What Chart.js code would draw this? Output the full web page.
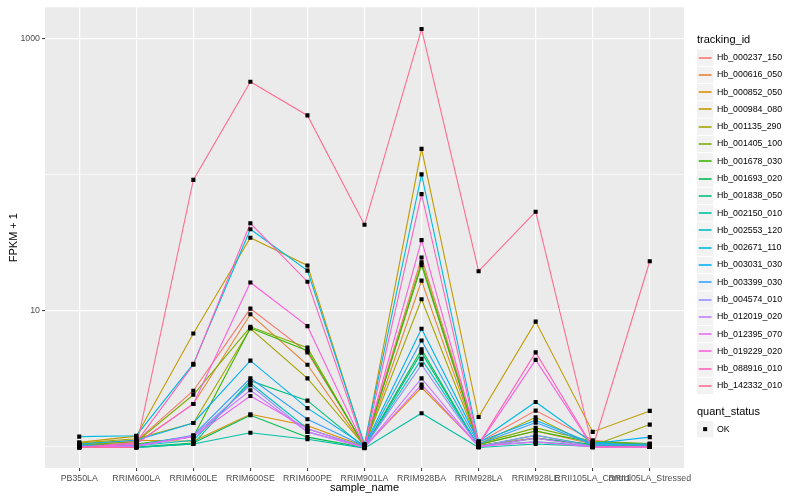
<!DOCTYPE html>
<html>
<head>
<meta charset="utf-8">
<script src="https://cdn.jsdelivr.net/npm/chart.js@4.4.1/dist/chart.umd.min.js"></script>
<style>
  html, body { margin: 0; padding: 0; background: #ffffff; }
  #wrap { width: 800px; height: 500px; }
</style>
</head>
<body>
<div id="wrap"><canvas id="chart" width="800" height="500"></canvas></div>
<script>
// x categories (sample_name)
const samples = ['PB350LA', 'RRIM600LA', 'RRIM600LE', 'RRIM600SE', 'RRIM600PE', 'RRIM901LA',
  'RRIM928BA', 'RRIM928LA', 'RRIM928LE', 'RRII105LA_Control', 'RRII105LA_Stressed'];

// tracking ids, in legend order, and their ggplot hue colours
const trackingIds = ['Hb_000237_150', 'Hb_000616_050', 'Hb_000852_050', 'Hb_000984_080', 'Hb_001135_290',
  'Hb_001405_100', 'Hb_001678_030', 'Hb_001693_020', 'Hb_001838_050', 'Hb_002150_010',
  'Hb_002553_120', 'Hb_002671_110', 'Hb_003031_030', 'Hb_003399_030', 'Hb_004574_010',
  'Hb_012019_020', 'Hb_012395_070', 'Hb_019229_020', 'Hb_088916_010', 'Hb_142332_010'];
const trackColors = ['#F8766D', '#EA8331', '#D89000', '#C09B00', '#A3A500',
  '#7CAE00', '#39B600', '#00BB4E', '#00BF7D', '#00C1A3',
  '#00BFC4', '#00BAE0', '#00B0F6', '#35A2FF', '#9590FF',
  '#C77CFF', '#E76BF3', '#FA62DB', '#FF62BC', '#FF6C91'];

// FPKM + 1 per sample, one array per tracking id
const hb000237 = [1.03, 1.10, 2.59, 10.4, 4.96, 1.02, 24.7, 1.08, 1.85, 1.12, 1.02];
const hb000616 = [1.02, 1.06, 2.07, 9.46, 4.02, 1.00, 16.7, 1.04, 1.31, 1.05, 1.01];
const hb000852 = [1.06, 1.12, 1.10, 1.74, 1.43, 1.01, 2.73, 1.03, 1.16, 1.03, 1.04];
const hb000984 = [1.08, 1.20, 6.83, 34.5, 21.6, 1.03, 155.6, 1.66, 8.35, 1.29, 1.84];
const hb001135 = [1.07, 1.15, 1.50, 7.43, 3.19, 1.02, 12.2, 1.05, 1.65, 1.02, 1.46];
const hb001405 = [1.04, 1.09, 2.42, 7.64, 5.37, 1.00, 22.8, 1.06, 1.38, 1.10, 1.06];
const hb001678 = [1.03, 1.05, 1.19, 7.50, 5.10, 1.01, 21.7, 1.04, 1.31, 1.08, 1.05];
const hb001693 = [1.02, 1.00, 1.07, 1.71, 1.18, 0.99, 5.22, 1.00, 1.16, 1.04, 1.03];
const hb001838 = [1.01, 0.99, 1.05, 3.07, 2.19, 0.99, 4.94, 1.01, 1.22, 1.03, 1.02];
const hb002150 = [1.00, 0.99, 1.05, 1.27, 1.14, 0.98, 1.77, 0.99, 1.05, 1.01, 1.00];
const hb002553 = [1.02, 1.02, 1.12, 2.95, 1.36, 1.00, 4.44, 1.02, 1.09, 1.02, 1.01];
const hb002671 = [1.19, 1.21, 4.08, 39.9, 19.8, 1.05, 101, 1.10, 2.14, 1.07, 1.03];
const hb003031 = [1.05, 1.12, 1.50, 4.31, 1.93, 1.02, 7.39, 1.09, 1.57, 1.06, 1.18];
const hb003399 = [1.03, 1.03, 1.22, 3.20, 1.60, 1.01, 6.07, 1.05, 1.51, 1.04, 1.05];
const hb004574 = [1.01, 1.01, 1.20, 2.84, 1.29, 1.00, 4.03, 1.01, 1.22, 1.01, 1.01];
const hb012019 = [1.00, 1.01, 1.21, 2.61, 1.29, 0.99, 3.19, 1.00, 1.16, 1.00, 1.00];
const hb012395 = [1.00, 1.02, 1.19, 2.37, 1.36, 0.99, 2.87, 1.01, 1.09, 1.00, 1.00];
const hb019229 = [0.99, 1.05, 2.07, 16.2, 7.73, 1.00, 33.2, 1.04, 4.37, 1.00, 1.00];
const hb088916 = [0.99, 1.08, 4.02, 44.1, 16.4, 1.00, 72.3, 1.05, 4.96, 1.00, 1.00];
const hb142332 = [0.99, 0.99, 92, 485, 274, 43, 1183, 19.6, 53.7, 0.99, 23.2];

const seriesValues = [hb000237, hb000616, hb000852, hb000984, hb001135, hb001405, hb001678,
  hb001693, hb001838, hb002150, hb002553, hb002671, hb003031, hb003399, hb004574,
  hb012019, hb012395, hb019229, hb088916, hb142332];

// y axis (log10) breaks
const yMajorTicks = [10, 1000];
const yGridTicks = [1, 10, 100, 1000];

const FONT = '"Liberation Sans", Arial, Helvetica, sans-serif';

// grey panel behind the plot, like theme_grey
const panelBackground = {
  id: 'panelBackground',
  beforeDraw(chart) {
    const { ctx, chartArea: a } = chart;
    ctx.save();
    ctx.fillStyle = '#EBEBEB';
    ctx.fillRect(a.left, a.top, a.right - a.left, a.bottom - a.top);
    ctx.restore();
  }
};

// ggplot-style legends on the right
const ggLegend = {
  id: 'ggLegend',
  afterDraw(chart) {
    const ctx = chart.ctx;
    const x0 = 697;
    const key = 17.28;
    ctx.save();
    ctx.textBaseline = 'middle';
    ctx.textAlign = 'left';

    ctx.fillStyle = '#000000';
    ctx.font = '11px ' + FONT;
    ctx.fillText('tracking_id', x0, 40);

    ctx.font = '8.8px ' + FONT;
    trackingIds.forEach((id, i) => {
      const top = 49 + i * key;
      const mid = Math.round(top + key / 2);
      ctx.fillStyle = '#F2F2F2';
      ctx.fillRect(x0, top + 0.5, key - 1, key - 1);
      ctx.strokeStyle = trackColors[i];
      ctx.lineWidth = 1.6;
      ctx.beginPath();
      ctx.moveTo(x0 + 1.7, mid);
      ctx.lineTo(x0 + key - 2.7, mid);
      ctx.stroke();
      ctx.fillStyle = '#000000';
      ctx.fillText(id, x0 + key + 2.7, top + key / 2);
    });

    ctx.font = '11px ' + FONT;
    ctx.fillText('quant_status', x0, 412);
    const okTop = 420.5;
    ctx.fillStyle = '#F2F2F2';
    ctx.fillRect(x0, okTop + 0.5, key - 1, key - 1);
    ctx.fillStyle = '#000000';
    ctx.fillRect(x0 + key / 2 - 2.5, okTop + key / 2 - 2, 4, 4);
    ctx.font = '8.8px ' + FONT;
    ctx.fillText('OK', x0 + key + 2.7, okTop + key / 2);
    ctx.restore();
  }
};

const lineDatasets = seriesValues.map((vals, i) => ({
  label: trackingIds[i],
  data: vals.map((v, j) => ({ x: j, y: v })),
  borderColor: trackColors[i],
  backgroundColor: trackColors[i],
  borderWidth: 1.1,
  pointRadius: 0,
  fill: false,
  tension: 0,
  order: seriesValues.length - i + 1
}));

const pointDataset = {
  label: 'OK',
  data: seriesValues.flatMap(vals => vals.map((v, j) => ({ x: j, y: v }))),
  showLine: false,
  pointStyle: 'rect',
  pointRadius: 2.9,
  pointBorderWidth: 0,
  pointBackgroundColor: '#000000',
  pointBorderColor: '#000000',
  order: 0
};

new Chart(document.getElementById('chart'), {
  type: 'line',
  data: { datasets: [...lineDatasets, pointDataset] },
  plugins: [panelBackground, ggLegend],
  options: {
    responsive: false,
    animation: false,
    events: [],
    layout: { padding: { left: 0, right: 116, top: 5, bottom: 0 } },
    plugins: {
      legend: { display: false },
      tooltip: { enabled: false }
    },
    scales: {
      x: {
        type: 'linear',
        min: -0.6,
        max: samples.length - 1 + 0.6,
        afterBuildTicks: axis => { axis.ticks = samples.map((s, i) => ({ value: i })); },
        afterFit: axis => { axis.height = 32; },
        border: { display: false },
        grid: {
          color: '#FFFFFF',
          lineWidth: 1.2,
          drawTicks: true,
          tickLength: 3,
          tickColor: '#333333',
          tickWidth: 1
        },
        ticks: {
          autoSkip: false,
          maxRotation: 0,
          minRotation: 0,
          padding: 2,
          color: '#4D4D4D',
          font: { family: FONT, size: 8.8 },
          callback: v => samples[v]
        },
        title: {
          display: true,
          text: 'sample_name',
          color: '#000000',
          font: { family: FONT, size: 11 },
          padding: { top: 0, bottom: 5 }
        }
      },
      y: {
        type: 'logarithmic',
        min: 0.70,
        max: 1710,
        afterBuildTicks: axis => { axis.ticks = yGridTicks.map(v => ({ value: v })); },
        afterFit: axis => { axis.width = 45; },
        border: { display: false },
        grid: {
          color: '#FFFFFF',
          lineWidth: c => (c.tick && yMajorTicks.includes(c.tick.value)) ? 1.2 : 0.6,
          drawTicks: true,
          tickLength: 3,
          tickColor: c => (c.tick && yMajorTicks.includes(c.tick.value)) ? '#333333' : 'rgba(0,0,0,0)',
          tickWidth: 1
        },
        ticks: {
          padding: 2,
          color: '#4D4D4D',
          font: { family: FONT, size: 8.8 },
          callback: v => yMajorTicks.includes(v) ? String(v) : ''
        },
        title: {
          display: true,
          text: 'FPKM + 1',
          color: '#000000',
          font: { family: FONT, size: 11 },
          padding: { top: 7, bottom: 0 }
        }
      }
    }
  }
});
</script>
</body>
</html>
